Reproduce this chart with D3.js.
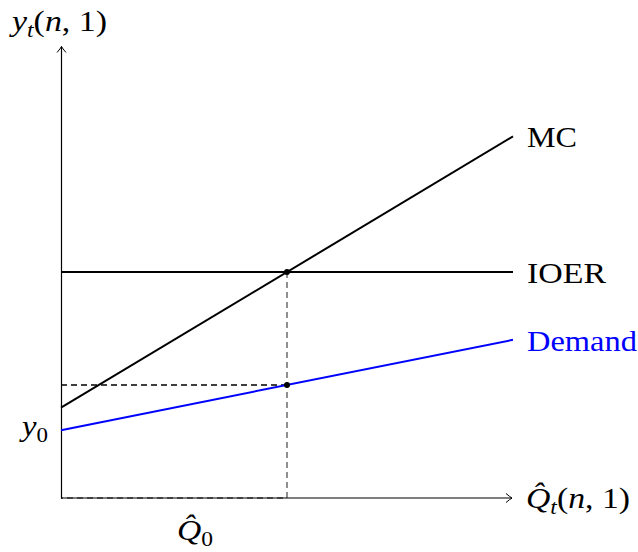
<!DOCTYPE html>
<html>
<head>
<meta charset="utf-8">
<script src="https://cdn.jsdelivr.net/npm/d3@7"></script>
<style>
  body { margin: 0; background: #fff; }
  svg text { font-family: "Liberation Serif", "DejaVu Serif", serif; }
</style>
</head>
<body>
<svg width="638" height="552"></svg>
<script>
// chart values (stylised supply/demand diagram)
let qPoints = [0, 10];
let mcValues = [2, 8];
let ioerValues = [5, 5];
let demandValues = [1.5, 3.5];
let qHat = 5;
let yAtQHat = 2.5;
let lineLabels = ["MC", "IOER", "Demand"];

let svg = d3.select("svg");

let x = d3.scaleLinear().domain([0, 10]).range([61, 513]);
let y = d3.scaleLinear().domain([0, 10]).range([498, 46]);

// arrow tip like tikz "->"
svg.append("defs").append("marker")
    .attr("id", "tip")
    .attr("viewBox", "-8 -6 10 12")
    .attr("refX", 0)
    .attr("refY", 0)
    .attr("markerWidth", 10)
    .attr("markerHeight", 12)
    .attr("markerUnits", "userSpaceOnUse")
    .attr("orient", "auto")
  .append("path")
    .attr("d", "M-6,-4.5 Q-2,-1 0,0 Q-2,1 -6,4.5")
    .attr("fill", "none")
    .attr("stroke", "#000")
    .attr("stroke-width", 1);

// dashed guides
let line = d3.line().x(d => x(d[0])).y(d => y(d[1]));

svg.append("path")
    .attr("d", line([[0, yAtQHat], [qHat, yAtQHat]]))
    .attr("fill", "none")
    .attr("stroke", "#000")
    .attr("stroke-width", 1.3)
    .attr("stroke-dasharray", "6,4");

svg.append("path")
    .attr("d", line([[qHat, ioerValues[0]], [qHat, 0], [0, 0]]))
    .attr("fill", "none")
    .attr("stroke", "#555")
    .attr("stroke-width", 1.3)
    .attr("stroke-dasharray", "6,4");

// axes
let xAxis = svg.append("g")
    .attr("transform", "translate(0," + y(0) + ")")
    .call(d3.axisBottom(x).tickValues([]).tickSizeOuter(0));
xAxis.select(".domain")
    .attr("stroke", "#000")
    .attr("stroke-width", 1.2)
    .attr("d", "M" + x(0) + ",0H" + (x(10) - 1))
    .attr("marker-end", "url(#tip)");

let yAxis = svg.append("g")
    .attr("transform", "translate(" + x(0) + ",0)")
    .call(d3.axisLeft(y).tickValues([]).tickSizeOuter(0));
yAxis.select(".domain")
    .attr("stroke", "#000")
    .attr("stroke-width", 1.2)
    .attr("marker-end", "url(#tip)");

// curves
let series = [
    { name: lineLabels[0], values: mcValues, color: "#000", w: 50 },
    { name: lineLabels[1], values: ioerValues, color: "#000", w: 79 },
    { name: lineLabels[2], values: demandValues, color: "#0000ff", w: 110 }
];

svg.selectAll(".curve")
    .data(series)
    .enter()
    .append("path")
    .classed("curve", true)
    .attr("d", s => line(qPoints.map((q, i) => [q, s.values[i]])))
    .attr("fill", "none")
    .attr("stroke", s => s.color)
    .attr("stroke-width", 2);

svg.selectAll(".curve-label")
    .data(series)
    .enter()
    .append("text")
    .classed("curve-label", true)
    .attr("x", x(10) + 14)
    .attr("y", s => y(s.values[1]))
    .attr("dy", "0.36em")
    .attr("fill", s => s.color)
    .attr("textLength", s => s.w)
    .attr("lengthAdjust", "spacingAndGlyphs")
    .style("font-size", "30px")
    .text(s => s.name);

// intersection dots
svg.selectAll(".dot")
    .data([[qHat, ioerValues[0]], [qHat, yAtQHat]])
    .enter()
    .append("circle")
    .classed("dot", true)
    .attr("cx", d => x(d[0]))
    .attr("cy", d => y(d[1]))
    .attr("r", 3)
    .attr("fill", "#000");

// math labels
function mathText(px, py, parts, len) {
    let t = svg.append("text")
        .attr("x", px)
        .attr("y", py)
        .style("font-size", "30px");
    if (len) t.attr("textLength", len).attr("lengthAdjust", "spacingAndGlyphs");
    parts.forEach(p => {
        let s = t.append("tspan").text(p.t);
        if (p.i) s.style("font-style", "italic");
        if (p.sub) {
            s.style("font-size", "21px").attr("dy", 6);
        } else if (p.back) {
            s.attr("dy", -6);
        }
    });
    return t;
}

mathText(12, 31, [
    { t: "y", i: true }, { t: "t", i: true, sub: true },
    { t: "(", back: true }, { t: "n", i: true }, { t: ", 1)" }
], 95);

mathText(526, 508, [
    { t: "Q\u0302", i: true }, { t: "t", i: true, sub: true },
    { t: "(", back: true }, { t: "n", i: true }, { t: ", 1)" }
], 104);

mathText(177, 540, [
    { t: "Q\u0302", i: true }, { t: "0", sub: true }
], 36);

mathText(22, 436, [
    { t: "y", i: true }, { t: "0", sub: true }
], 26);
</script>
</body>
</html>
